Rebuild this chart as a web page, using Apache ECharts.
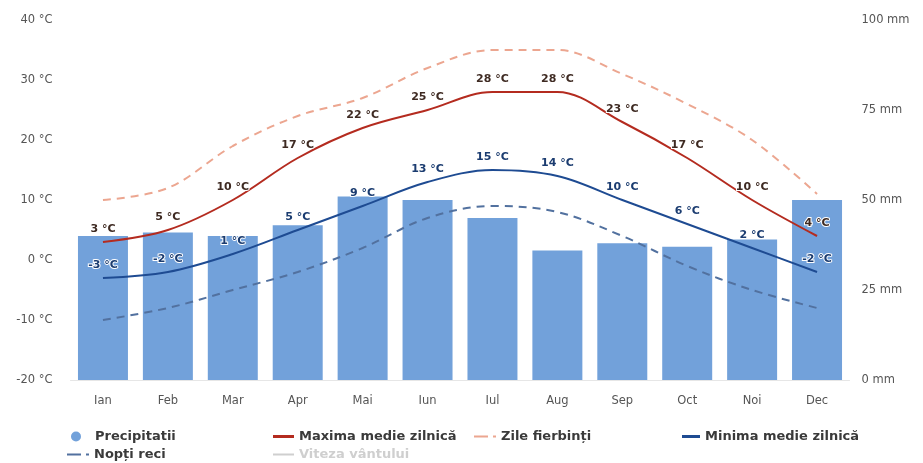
<!DOCTYPE html>
<html>
<head>
<meta charset="utf-8">
<script src="https://cdn.jsdelivr.net/npm/echarts@6/dist/echarts.min.js"></script>
<style>
  html, body { margin: 0; padding: 0; background: #fff; }
  #chart { width: 923px; height: 463px; }
</style>
</head>
<body>
<div id="chart"></div>
<script>
// Monthly climate summary: precipitation bars (mm) and temperature curves (°C)
const months = ['Ian', 'Feb', 'Mar', 'Apr', 'Mai', 'Iun', 'Iul', 'Aug', 'Sep', 'Oct', 'Noi', 'Dec'];
const precipitation = [40, 41, 40, 43, 51, 50, 45, 36, 38, 37, 39, 50];
const maxDaily = [3, 5, 10, 17, 22, 25, 28, 28, 23, 17, 10, 4];
const hotDays = [10, 12, 19, 24, 27, 32, 35, 35, 31, 26, 20, 11];
const minDaily = [-3, -2, 1, 5, 9, 13, 15, 14, 10, 6, 2, -2];
const coldNights = [-10, -8, -5, -2, 2, 7, 9, 8, 4, -1, -5, -8];
// Wind speed is listed in the legend but switched off, so it has no plotted values
const windSpeed = [];

const tempTicks = { min: -20, max: 40, interval: 10 };
const rainTicks = { min: 0, max: 100, interval: 25 };

const FONT = '"DejaVu Sans", Verdana, sans-serif';
const COLORS = {
  bar: '#72a1da',
  max: '#b42b1f',
  hot: '#eca690',
  min: '#1e4b92',
  cold: '#52719f',
  wind: '#bbbbbb'
};

const dashIcon = 'path://M0,0H14V2H0Z M19,0H22V2H19Z';
const legendText = { fontFamily: FONT, fontSize: 13, fontWeight: 'bold', color: '#3a3a3a' };

function legendAt(name, left, top, icon, w, h, extra) {
  return Object.assign({
    data: [name],
    left: left,
    top: top,
    icon: icon,
    itemWidth: w,
    itemHeight: h,
    padding: 0,
    textStyle: legendText
  }, extra || {});
}

function tempLabel(color) {
  return {
    show: true,
    position: 'top',
    distance: 7,
    formatter: p => p.value + ' °C',
    fontFamily: FONT,
    fontSize: 11,
    fontWeight: 'bold',
    color: color,
    textBorderColor: '#ffffff',
    textBorderWidth: 2
  };
}

const chart = echarts.init(document.getElementById('chart'), null, { renderer: 'canvas' });

chart.setOption({
  animation: false,
  backgroundColor: '#ffffff',
  grid: { left: 70.5, right: 73.5, top: 20, bottom: 83, containLabel: false },
  legend: [
    legendAt('Precipitatii', 71, 430, 'circle', 10, 10, {
      textStyle: Object.assign({}, legendText, { padding: [0, 0, 0, 9] })
    }),
    legendAt('Maxima medie zilnică', 273, 430, 'rect', 21, 3),
    legendAt('Zile fierbinți', 474, 430, dashIcon, 22, 3),
    legendAt('Minima medie zilnică', 682, 430, 'rect', 18, 3),
    legendAt('Nopți reci', 67, 448, dashIcon, 22, 3),
    legendAt('Viteza vântului', 273, 448, 'rect', 21, 2, {
      selected: { 'Viteza vântului': false },
      inactiveColor: '#cfcfcf'
    })
  ],
  xAxis: {
    type: 'category',
    data: months,
    axisLine: { show: true, onZero: false, lineStyle: { color: '#e6e6e6', width: 1 } },
    axisTick: { show: false },
    axisLabel: { margin: 15, fontFamily: FONT, fontSize: 11.5, color: '#555' },
    splitLine: { show: false }
  },
  yAxis: [
    {
      type: 'value',
      min: tempTicks.min,
      max: tempTicks.max,
      interval: tempTicks.interval,
      axisLine: { show: false },
      axisTick: { show: false },
      splitLine: { show: false },
      axisLabel: { margin: 18, fontFamily: FONT, fontSize: 11.5, color: '#555', formatter: v => v + ' °C' }
    },
    {
      type: 'value',
      position: 'right',
      min: rainTicks.min,
      max: rainTicks.max,
      interval: rainTicks.interval,
      axisLine: { show: false },
      axisTick: { show: false },
      splitLine: { show: false },
      axisLabel: { margin: 12, fontFamily: FONT, fontSize: 11.5, color: '#555', formatter: v => v + ' mm' }
    }
  ],
  series: [
    {
      name: 'Precipitatii',
      type: 'bar',
      yAxisIndex: 1,
      data: precipitation,
      barWidth: '77%',
      itemStyle: { color: COLORS.bar },
      z: 1
    },
    {
      name: 'Zile fierbinți',
      type: 'line',
      yAxisIndex: 0,
      data: hotDays,
      smooth: 0.35,
      showSymbol: false,
      symbol: 'none',
      lineStyle: { color: COLORS.hot, width: 2, type: [8, 6] },
      itemStyle: { color: COLORS.hot },
      z: 2
    },
    {
      name: 'Nopți reci',
      type: 'line',
      yAxisIndex: 0,
      data: coldNights,
      smooth: 0.35,
      showSymbol: false,
      symbol: 'none',
      lineStyle: { color: COLORS.cold, width: 2, type: [8, 6] },
      itemStyle: { color: COLORS.cold },
      z: 2
    },
    {
      name: 'Maxima medie zilnică',
      type: 'line',
      yAxisIndex: 0,
      data: maxDaily,
      smooth: 0.35,
      showSymbol: true,
      symbol: 'circle',
      symbolSize: 0.1,
      lineStyle: { color: COLORS.max, width: 2 },
      itemStyle: { color: COLORS.max },
      label: tempLabel('#3e2a22'),
      z: 3
    },
    {
      name: 'Minima medie zilnică',
      type: 'line',
      yAxisIndex: 0,
      data: minDaily,
      smooth: 0.35,
      showSymbol: true,
      symbol: 'circle',
      symbolSize: 0.1,
      lineStyle: { color: COLORS.min, width: 2 },
      itemStyle: { color: COLORS.min },
      label: tempLabel('#1b3c70'),
      z: 3
    },
    {
      name: 'Viteza vântului',
      type: 'line',
      yAxisIndex: 0,
      data: windSpeed,
      showSymbol: false,
      lineStyle: { color: COLORS.wind, width: 1 },
      itemStyle: { color: COLORS.wind }
    }
  ]
});
</script>
</body>
</html>
